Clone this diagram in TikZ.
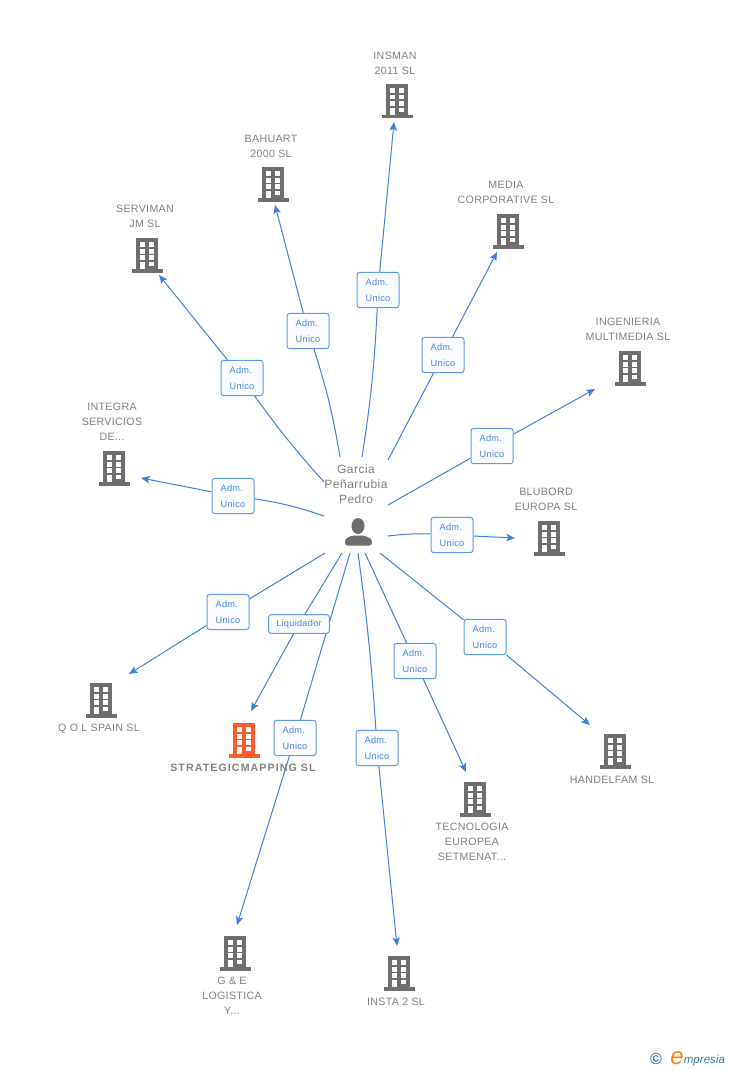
\documentclass[tikz,border=0pt]{standalone}
\usepackage{fontspec}
\setmainfont{Liberation Sans}
\newfontfamily\tagfont[LetterSpace=3]{Liberation Sans}
\newfontfamily\namefont[LetterSpace=4]{Liberation Sans}
\newfontfamily\boldname[LetterSpace=10]{Liberation Sans}
\usetikzlibrary{arrows.meta,backgrounds}
\definecolor{linkblue}{HTML}{3C80E0}
\definecolor{boxblue}{HTML}{5F9AE8}
\definecolor{boxfill}{HTML}{FAFBFE}
\definecolor{tagtext}{HTML}{4A86DC}
\definecolor{txtgray}{HTML}{808080}
\definecolor{iconc}{HTML}{6E6E6E}
\definecolor{hot}{HTML}{FF5A2B}
\definecolor{logoblue}{HTML}{3F7F9F}
\tikzset{
  x=0.75pt,y=-0.75pt,
  link/.style={draw=linkblue,line width=0.75pt},
  arrowlink/.style={link,-{Stealth[length=6.5pt,width=5.5pt,inset=1.5pt]}},
  tagbox/.style={draw=boxblue,line width=0.75pt,fill=boxfill,rounded corners=2pt,minimum width=31.5pt,minimum height=26.5pt,inner sep=0pt,align=left,text=tagtext,font=\tagfont\fontsize{6.9}{12}\selectfont},
  tagflat/.style={tagbox,minimum width=45.5pt,minimum height=14pt},
  cotext/.style={text=txtgray,align=center,inner sep=0pt,font=\tagfont\fontsize{8}{11.25}\selectfont},
  persontext/.style={text=txtgray,align=center,inner sep=0pt,font=\namefont\fontsize{9}{11.25}\selectfont},
  pics/bldg/.style={code={
    \fill[#1] (-11,0) rectangle (11,31);
    \fill[#1] (-15.5,31) rectangle (15.5,34.5);
    \foreach \cx/\cw in {-7/4.5,2.4/5}{\foreach \cy in {4.3,11,17.2}{\fill[white] (\cx,\cy) rectangle ++(\cw,4.5);}}
    \fill[white] (-7,23.7) rectangle (-2.5,31);
    \fill[white] (2.4,23.7) rectangle (7.4,28.3);
  }},
}
\begin{document}
\begin{tikzpicture}
\useasboundingbox (0,0) rectangle (728,1070);
\begin{scope}[on background layer]
\fill[white] (0,0) rectangle (728,1070);
\end{scope}

% buildings
\pic at (397,84) {bldg=iconc};
\pic at (273,167) {bldg=iconc};
\pic at (147,238) {bldg=iconc};
\pic at (114,451) {bldg=iconc};
\pic at (508,214) {bldg=iconc};
\pic at (630,351) {bldg=iconc};
\pic at (549,521) {bldg=iconc};
\pic at (101,683) {bldg=iconc};
\pic at (244,723) {bldg=hot};
\pic at (475,782) {bldg=iconc};
\pic at (615,734) {bldg=iconc};
\pic at (235,936) {bldg=iconc};
\pic at (399,956) {bldg=iconc};

% company names
\node[cotext] (n1) at (395,63) {INSMAN\\2011 SL};
\node[cotext] (n2) at (271,146) {BAHUART\\2000 SL};
\node[cotext] (n3) at (145,216) {SERVIMAN\\JM SL};
\node[cotext] (n4) at (112,422) {INTEGRA\\SERVICIOS\\DE...};
\node[cotext] (n5) at (506,192) {MEDIA\\CORPORATIVE SL};
\node[cotext] (n6) at (628,329) {INGENIERIA\\MULTIMEDIA SL};
\node[cotext] (n7) at (546,499) {BLUBORD\\EUROPA SL};
\node[cotext] (n8) at (99,729) {Q O L SPAIN SL};
\node[cotext,font=\boldname\bfseries\fontsize{8}{11.25}\selectfont] (n9) at (243,768) {STRATEGICMAPPING SL};
\node[cotext] (n10) at (472,842) {TECNOLOGIA\\EUROPEA\\SETMENAT...};
\node[cotext] (n11) at (612,780) {HANDELFAM SL};
\node[cotext] (n12) at (232,996) {G \& E\\LOGISTICA\\Y...};
\node[cotext] (n13) at (396,1002) {INSTA 2 SL};

% person
\node[persontext] (p) at (356,484) {Garcia\\Peñarrubia\\Pedro};
\fill[iconc] (358,526) ellipse (6.5 and 8);
\fill[iconc,rounded corners=2pt] (345,545.5) -- (345,539) -- (352,535.5) -- (364,535.5) -- (372,539) -- (372,545.5) -- cycle;

% tags
\node[tagbox] (l1) at (378,290) {Adm.\\Unico};
\node[tagbox] (l2) at (308,331) {Adm.\\Unico};
\node[tagbox] (l3) at (242,378) {Adm.\\Unico};
\node[tagbox] (l4) at (233,496) {Adm.\\Unico};
\node[tagbox] (l5) at (443,355) {Adm.\\Unico};
\node[tagbox] (l6) at (492,446) {Adm.\\Unico};
\node[tagbox] (l7) at (452,535) {Adm.\\Unico};
\node[tagbox] (l8) at (485,637) {Adm.\\Unico};
\node[tagbox] (l9) at (415,661) {Adm.\\Unico};
\node[tagbox] (l10) at (377,748) {Adm.\\Unico};
\node[tagbox] (l11) at (295,738) {Adm.\\Unico};
\node[tagflat] (l12) at (299,624) {Liquidador};
\node[tagbox] (l13) at (228,612) {Adm.\\Unico};

% connector ends
\foreach \nm/\xa/\ya/\xb/\yb in {
 1/362/457/394/122, 2/340/457/275/205, 3/324/482/159/275, 4/324/516/141/478,
 5/388/460/497/252, 6/388/505/595/389, 7/388/536/515/538, 8/380/553/590/725,
 9/365/553/466/772, 10/358/553/397/946, 11/350/553/237/925, 12/342/553/251/711,
 13/325/553/129/674}{
  \coordinate (s\nm) at (\xa,\ya);
  \coordinate (e\nm) at (\xb,\yb);
}

\begin{scope}[on background layer]
\draw[link] (s1) to[bend right=3] (l1);  \draw[arrowlink] (l1) -- (e1);
\draw[link] (s2) to[bend right=4] (l2);  \draw[arrowlink] (l2) -- (e2);
\draw[link] (s3) to[bend left=3] (l3);   \draw[arrowlink] (l3) -- (e3);
\draw[link] (s4) to[bend right=5] (l4);  \draw[arrowlink] (l4) -- (e4);
\draw[link] (s5) -- (l5);                \draw[arrowlink] (l5) -- (e5);
\draw[link] (s6) -- (l6);                \draw[arrowlink] (l6) -- (e6);
\draw[link] (s7) to[bend left=4] (l7);   \draw[arrowlink] (l7) -- (e7);
\draw[link] (s8) -- (l8);                \draw[arrowlink] (l8) -- (e8);
\draw[link] (s9) -- (l9);                \draw[arrowlink] (l9) -- (e9);
\draw[link] (s10) to[bend left=2] (l10); \draw[arrowlink] (l10) -- (e10);
\draw[link] (s11) -- (l11);              \draw[arrowlink] (l11) -- (e11);
\draw[link] (s12) -- (l12);              \draw[arrowlink] (l12) -- (e12);
\draw[link] (s13) -- (l13);              \draw[arrowlink] (l13) -- (e13);
\end{scope}

% logo
\node[text=logoblue,inner sep=0pt,font=\bfseries\fontsize{12}{12}\selectfont] (c) at (656,1059) {©};
\node[text=orange,inner sep=0pt,font=\itshape\fontsize{18}{18}\selectfont,anchor=base] (le) at (677,1064) {e};
\node[text=logoblue,inner sep=0pt,font=\itshape\fontsize{8.7}{10}\selectfont,anchor=base west] (lm) at (683.5,1063) {mpresia};
\end{tikzpicture}
\end{document}
